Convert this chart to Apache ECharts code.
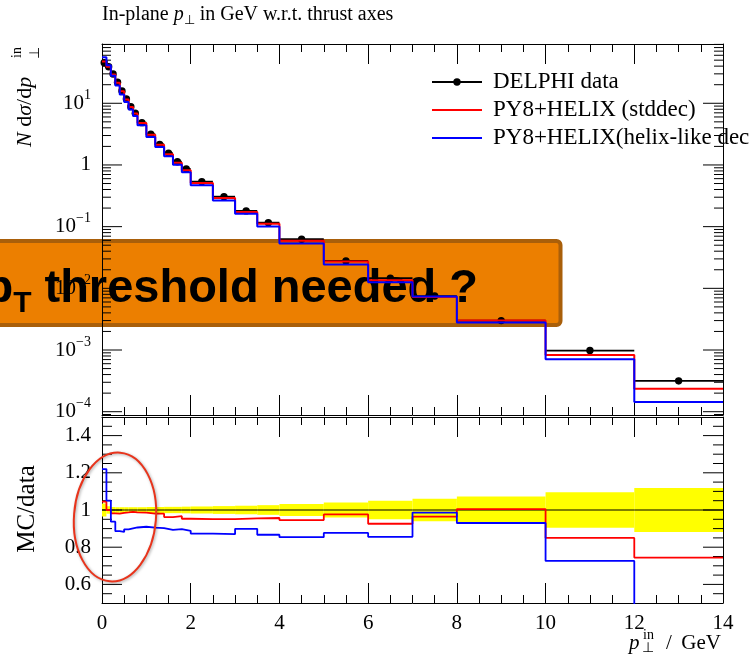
<!DOCTYPE html>
<html><head><meta charset="utf-8">
<script src="https://cdn.jsdelivr.net/npm/echarts@6/dist/echarts.min.js"></script>
<style>html,body{margin:0;padding:0;background:#fff}#c{width:749px;height:663px}</style>
</head><body><div id="c"></div>
<script>
// ---------------- data ----------------
const binEdges = [0,0.1,0.2,0.3,0.4,0.5,0.6,0.7,0.8,1.0,1.2,1.4,1.6,1.8,2.0,2.5,3.0,3.5,4.0,5,6,7,8,10,12,14];
const dataValues = [45.5,39.2,29.9,21.9,15.8,11.7,8.81,6.89,4.85,3.15,2.16,1.55,1.13,0.861,0.536,0.306,0.180,0.116,0.0625,0.0278,0.0146,0.0075,0.0030,0.00098,0.000316];
const dataRelErr = [0.035,0.02,0.016,0.015,0.015,0.015,0.015,0.015,0.015,0.016,0.016,0.017,0.017,0.018,0.019,0.021,0.023,0.026,0.032,0.04,0.05,0.061,0.072,0.095,0.118];
const redValues = [47.5,39.2,29.4,21.5,15.6,11.5,8.72,6.80,4.78,3.09,2.12,1.49,1.09,0.821,0.510,0.291,0.172,0.111,0.0591,0.0271,0.0135,0.00723,0.00302,0.000833,0.000235];
const blueValues = [55.5,41.2,28.0,19.4,13.9,10.5,7.94,6.24,4.41,2.85,1.95,1.38,1.01,0.765,0.468,0.266,0.162,0.1006,0.0534,0.0244,0.0125,0.0074,0.00279,0.000711,0.000144];
const redRatio = [1.045,1.0,0.982,0.98,0.985,0.987,0.99,0.987,0.986,0.981,0.98,0.962,0.967,0.953,0.951,0.951,0.955,0.957,0.946,0.976,0.926,0.964,1.005,0.85,0.744];
const blueRatio = [1.22,1.05,0.937,0.886,0.882,0.896,0.901,0.906,0.91,0.905,0.903,0.893,0.897,0.888,0.873,0.87,0.899,0.867,0.854,0.877,0.856,0.986,0.93,0.726,0.457];
const xTickLabels = [0,2,4,6,8,10,12,14];
const logMajorTicks = [1e-4,1e-3,1e-2,1e-1,1,10];
const ratioMajorTicks = [0.6,0.8,1.0,1.2,1.4];
const ratioMinorTicks = [0.55,0.65,0.7,0.75,0.85,0.9,0.95,1.05,1.1,1.15,1.25,1.3,1.35,1.45];
const legendNames = ['DELPHI data','PY8+HELIX (stddec)','PY8+HELIX(helix-like decays)'];

const yLogMin = 8.84e-5, yLogMax = 91.4;
const logMinorTicks = [];
for (let e = -5; e <= 1; e++) for (let m = 2; m <= 9; m++) {
  const v = m * Math.pow(10, e);
  if (v > yLogMin && v < yLogMax) logMinorTicks.push(v);
}

// ---------------- helpers ----------------
const SERIF = 'Liberation Serif';
const stepPts = vals => { const p = []; vals.forEach((v, i) => { p.push([binEdges[i], v]); p.push([binEdges[i + 1], v]); }); return p; };
const dataItems = dataValues.map((v, i) => [binEdges[i], binEdges[i + 1], v, dataRelErr[i]]);
const bandItems = dataRelErr.map((e, i) => [binEdges[i], binEdges[i + 1], e]);
const unitLine = binEdges.map(e => [e, 1]);
const logTickItems = logMajorTicks.map(v => [0, v, 20]).concat(logMinorTicks.map(v => [0, v, 9]));
const ratioTickItems = ratioMajorTicks.map(v => [0, v, 20]).concat(ratioMinorTicks.map(v => [0, v, 10]));
const BLK = '#000';

function tickRender(params, api) {
  const v = api.value(1), len = api.value(2);
  const p = api.coord([0, v]), q = api.coord([14, v]);
  return { type: 'group', children: [
    { type: 'line', shape: { x1: p[0], y1: p[1], x2: p[0] + len, y2: p[1] }, style: { stroke: BLK, lineWidth: 1 } },
    { type: 'line', shape: { x1: q[0] - len, y1: q[1], x2: q[0], y2: q[1] }, style: { stroke: BLK, lineWidth: 1 } }
  ]};
}

const xCommon = {
  type: 'value', min: 0, max: 14, interval: 2,
  axisLine: { show: true, onZero: false, lineStyle: { color: BLK, width: 1 } },
  axisTick: { show: true, inside: true, length: 20, lineStyle: { color: BLK, width: 1 } },
  minorTick: { show: true, splitNumber: 4, length: 8, lineStyle: { color: BLK, width: 1 } },
  splitLine: { show: false }, minorSplitLine: { show: false },
  axisLabel: { show: false }
};
const yLine = { show: true, onZero: false, lineStyle: { color: BLK, width: 1 } };

function logLabel(v) {
  const l = Math.log10(v), e = Math.round(l);
  if (Math.abs(l - e) > 1e-6) return '';
  if (e === 0) return '{b|1}';
  return '{b|10}{s|' + (e < 0 ? '\u2212' + (-e) : '' + e) + '}';
}
function ratioLabel(v) {
  const k = Math.round(v * 10);
  if (Math.abs(v * 10 - k) > 1e-6 || k % 2 !== 0 || k < 6 || k > 14) return '';
  return k === 10 ? '1' : (k / 10).toFixed(1);
}

const option = {
  animation: false,
  backgroundColor: '#fff',
  grid: [
    { left: 102, right: 26, top: 44, height: 371 },
    { left: 102, right: 26, top: 417, height: 186 }
  ],
  xAxis: [
    Object.assign({}, xCommon, { gridIndex: 0, position: 'bottom' }),
    Object.assign({}, xCommon, { gridIndex: 0, position: 'top' }),
    Object.assign({}, xCommon, { gridIndex: 1, position: 'bottom',
      axisLabel: { show: true, interval: 0, margin: 10, color: BLK, fontFamily: SERIF, fontSize: 21,
        customValues: xTickLabels } }),
    Object.assign({}, xCommon, { gridIndex: 1, position: 'top' })
  ],
  yAxis: [
    { type: 'log', logBase: 10, gridIndex: 0, min: yLogMin, max: yLogMax, position: 'left',
      axisLine: yLine, axisTick: { show: false }, minorTick: { show: false }, splitLine: { show: false },
      axisLabel: { show: true, interval: 0, margin: 11, showMinLabel: false, showMaxLabel: false,
        formatter: logLabel, color: BLK,
        rich: { b: { fontFamily: SERIF, fontSize: 21, lineHeight: 30, color: BLK },
                s: { fontFamily: SERIF, fontSize: 14, lineHeight: 14, verticalAlign: 'top', color: BLK } } } },
    { type: 'log', logBase: 10, gridIndex: 0, min: yLogMin, max: yLogMax, position: 'right',
      axisLine: yLine, axisTick: { show: false }, minorTick: { show: false }, splitLine: { show: false },
      axisLabel: { show: false } },
    { type: 'value', gridIndex: 1, min: 0.5, max: 1.5, interval: 0.1, position: 'left',
      axisLine: yLine, axisTick: { show: false }, minorTick: { show: false }, splitLine: { show: false },
      axisLabel: { show: true, interval: 0, margin: 11, formatter: ratioLabel, color: BLK, fontFamily: SERIF, fontSize: 21 } },
    { type: 'value', gridIndex: 1, min: 0.5, max: 1.5, interval: 0.1, position: 'right',
      axisLine: yLine, axisTick: { show: false }, minorTick: { show: false }, splitLine: { show: false },
      axisLabel: { show: false } }
  ],
  series: [
    // top panel ticks
    { type: 'custom', xAxisIndex: 0, yAxisIndex: 0, silent: true, z: 3, data: logTickItems,
      encode: { x: 0, y: 1 }, renderItem: tickRender },
    // data points
    { type: 'custom', name: legendNames[0], xAxisIndex: 0, yAxisIndex: 0, z: 4, data: dataItems,
      encode: { x: [0, 1], y: 2 },
      renderItem: (params, api) => {
        const lo = api.value(0), hi = api.value(1), v = api.value(2), e = api.value(3);
        const a = api.coord([lo, v]), b = api.coord([hi, v]), c = api.coord([(lo + hi) / 2, v]);
        const t = api.coord([(lo + hi) / 2, v * (1 + e)]), d = api.coord([(lo + hi) / 2, v * (1 - e)]);
        return { type: 'group', children: [
          { type: 'line', shape: { x1: a[0], y1: a[1], x2: b[0], y2: b[1] }, style: { stroke: BLK, lineWidth: 1.8 } },
          { type: 'line', shape: { x1: t[0], y1: t[1], x2: d[0], y2: d[1] }, style: { stroke: BLK, lineWidth: 1.5 } },
          { type: 'circle', shape: { cx: c[0], cy: c[1], r: 3.7 }, style: { fill: BLK } }
        ]};
      } },
    { type: 'line', name: legendNames[1], xAxisIndex: 0, yAxisIndex: 0, z: 5, data: stepPts(redValues),
      showSymbol: false, symbol: 'none', lineStyle: { color: '#ff0000', width: 2 } },
    { type: 'line', name: legendNames[2], xAxisIndex: 0, yAxisIndex: 0, z: 6, data: stepPts(blueValues),
      showSymbol: false, symbol: 'none', lineStyle: { color: '#0000ff', width: 2 } },
    // ratio panel
    { type: 'custom', xAxisIndex: 2, yAxisIndex: 2, silent: true, z: 2, data: bandItems,
      encode: { x: [0, 1], y: 2 },
      renderItem: (params, api) => {
        const lo = api.value(0), hi = api.value(1), e = api.value(2);
        const a = api.coord([lo, 1 + e]), b = api.coord([hi, 1 - e]);
        return { type: 'rect', shape: { x: a[0], y: a[1], width: b[0] - a[0], height: b[1] - a[1] }, style: { fill: '#ffff00' } };
      } },
    { type: 'custom', xAxisIndex: 2, yAxisIndex: 2, silent: true, z: 3, data: ratioTickItems,
      encode: { x: 0, y: 1 }, renderItem: tickRender },
    { type: 'line', xAxisIndex: 2, yAxisIndex: 2, z: 4, data: unitLine, showSymbol: false, symbol: 'none',
      lineStyle: { color: BLK, width: 1 } },
    { type: 'line', xAxisIndex: 2, yAxisIndex: 2, z: 5, data: stepPts(redRatio), showSymbol: false, symbol: 'none',
      lineStyle: { color: '#ff0000', width: 1.8 } },
    { type: 'line', xAxisIndex: 2, yAxisIndex: 2, z: 6, data: stepPts(blueRatio), showSymbol: false, symbol: 'none',
      lineStyle: { color: '#0000ff', width: 1.8 } }
  ],
  graphic: [
    // banner (below everything)
    { type: 'rect', z: -1, shape: { x: -10, y: 241, width: 570.5, height: 84, r: 4 },
      style: { fill: '#ec7f00', stroke: '#a95f0a', lineWidth: 4 } },
    { type: 'text', z: -1, x: 478, y: 289,
      style: { text: '{p|p}{t|T}{m| threshold needed ?}', align: 'right', verticalAlign: 'middle',
        rich: { p: { fontFamily: 'Liberation Sans', fontWeight: 'bold', fontSize: 47, lineHeight: 60, fill: BLK },
                t: { fontFamily: 'Liberation Sans', fontWeight: 'bold', fontSize: 30, lineHeight: 30, verticalAlign: 'bottom', fill: BLK },
                m: { fontFamily: 'Liberation Sans', fontWeight: 'bold', fontSize: 47, lineHeight: 60, fill: BLK } } } },
    // title
    { type: 'text', z: 50, x: 102, y: 15,
      style: { text: '{n|In-plane }{i|p}{s|\u22A5}{n| in GeV w.r.t. thrust axes}', verticalAlign: 'middle',
        rich: { n: { fontFamily: SERIF, fontSize: 20, lineHeight: 24, fill: BLK },
                i: { fontFamily: SERIF, fontStyle: 'italic', fontSize: 20, lineHeight: 24, fill: BLK },
                s: { fontFamily: SERIF, fontSize: 13, lineHeight: 13, verticalAlign: 'bottom', fill: BLK } } } },
    // legend
    { type: 'line', z: 50, shape: { x1: 432, y1: 82, x2: 482, y2: 82 }, style: { stroke: BLK, lineWidth: 1.8 } },
    { type: 'circle', z: 50, shape: { cx: 457, cy: 82, r: 3.7 }, style: { fill: BLK } },
    { type: 'text', z: 50, x: 493, y: 82, style: { text: legendNames[0], fontFamily: SERIF, fontSize: 23, fill: BLK, verticalAlign: 'middle' } },
    { type: 'line', z: 50, shape: { x1: 432, y1: 110, x2: 482, y2: 110 }, style: { stroke: '#ff0000', lineWidth: 1.8 } },
    { type: 'text', z: 50, x: 493, y: 110, style: { text: legendNames[1], fontFamily: SERIF, fontSize: 23, fill: BLK, verticalAlign: 'middle' } },
    { type: 'line', z: 50, shape: { x1: 432, y1: 138, x2: 482, y2: 138 }, style: { stroke: '#0000ff', lineWidth: 1.8 } },
    { type: 'text', z: 50, x: 493, y: 138, style: { text: legendNames[2], fontFamily: SERIF, fontSize: 23, fill: BLK, verticalAlign: 'middle' } },
    // y title (top panel), rotated
    { type: 'group', z: 50, x: 25, y: 147, rotation: Math.PI / 2, children: [
      { type: 'text', x: 0, y: 0, style: { text: '{i|N} d{i|\u03C3}/d{i|p}', verticalAlign: 'middle',
        rich: { i: { fontFamily: SERIF, fontStyle: 'italic', fontSize: 22, fill: BLK } },
        fontFamily: SERIF, fontSize: 22, fill: BLK } },
      { type: 'text', x: 89, y: -8, style: { text: 'in', fontFamily: SERIF, fontSize: 14, fill: BLK, verticalAlign: 'middle' } },
      { type: 'text', x: 88, y: 10, style: { text: '\u22A5', fontFamily: SERIF, fontSize: 14, fill: BLK, verticalAlign: 'middle' } }
    ] },
    // y title (ratio panel)
    { type: 'text', z: 50, x: 27, y: 509, rotation: Math.PI / 2,
      style: { text: 'MC/data', fontFamily: SERIF, fontSize: 25, fill: BLK, align: 'center', verticalAlign: 'middle' } },
    // x title
    { type: 'text', z: 50, x: 629, y: 643, style: { text: 'p', fontFamily: SERIF, fontStyle: 'italic', fontSize: 21, fill: BLK, verticalAlign: 'middle' } },
    { type: 'text', z: 50, x: 643, y: 635, style: { text: 'in', fontFamily: SERIF, fontSize: 14, fill: BLK, verticalAlign: 'middle' } },
    { type: 'text', z: 50, x: 642, y: 648, style: { text: '\u22A5', fontFamily: SERIF, fontSize: 14, fill: BLK, verticalAlign: 'middle' } },
    { type: 'text', z: 50, x: 666, y: 643, style: { text: '/', fontFamily: SERIF, fontSize: 21, fill: BLK, verticalAlign: 'middle' } },
    { type: 'text', z: 50, x: 721, y: 643, style: { text: 'GeV', fontFamily: SERIF, fontSize: 21, fill: BLK, align: 'right', verticalAlign: 'middle' } },
    // red ellipse annotation
    { type: 'ellipse', z: 60, x: 115, y: 517, rotation: -0.08, shape: { cx: 0, cy: 0, rx: 41, ry: 64.5 },
      style: { fill: 'none', stroke: '#e8341c', lineWidth: 2, shadowBlur: 3, shadowColor: 'rgba(0,0,0,0.35)', shadowOffsetX: 1, shadowOffsetY: 1 } }
  ]
};
const chart = echarts.init(document.getElementById('c'), null, { renderer: 'canvas', width: 749, height: 663 });
chart.setOption(option);
</script>
</body></html>
